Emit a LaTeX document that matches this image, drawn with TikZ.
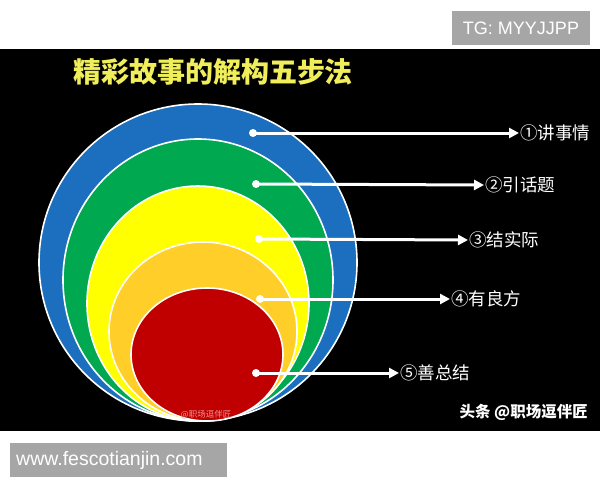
\documentclass[tikz,border=0pt]{standalone}
\usepackage{fontspec}
\usetikzlibrary{arrows.meta}
\newfontfamily\cjk{Noto Sans CJK SC}
\newfontfamily\lat{Liberation Sans}
\definecolor{cblue}{RGB}{28,110,190}
\definecolor{cgreen}{RGB}{0,168,80}
\definecolor{cyellow}{RGB}{255,255,0}
\definecolor{cgold}{RGB}{255,206,40}
\definecolor{cred}{RGB}{192,0,0}
\definecolor{ctitle}{RGB}{240,238,90}
\definecolor{cgrey}{RGB}{166,166,166}
\definecolor{cpink}{RGB}{240,150,150}
\tikzset{
  ring/.style={draw=white,line width=1.6pt},
  dot/.style={circle,fill=white,inner sep=0pt,minimum size=8pt},
  lbl/.style={anchor=west,text=white,font=\cjk\fontsize{17.5}{17.5}\selectfont,inner sep=1pt},
  arr/.style={draw=white,line width=3pt,-{Triangle[length=10pt,width=10pt]}},
  tag/.style={fill=cgrey,text=white,inner sep=0pt,font=\lat}
}
\begin{document}
\begin{tikzpicture}[x=1pt,y=-1pt]
\useasboundingbox (0,0) rectangle (600,480);
\fill[white] (0,0) rectangle (600,480);
\fill[black] (0,49) rectangle (600,431);
% top tag
\node[tag,minimum width=138pt,minimum height=34pt,font=\lat\fontsize{18}{18}\selectfont] (tg) at (521,28) {TG: MYYJJPP};
% bottom tag
\node[tag,anchor=west,minimum width=217pt,minimum height=34pt,align=left,text width=205pt,inner xsep=6pt,font=\lat\fontsize{19.5}{19.5}\selectfont] (web) at (10,460) {www.fescotianjin.com};
% title
\node[text=ctitle,font=\cjk\bfseries\fontsize{28}{28}\selectfont,inner sep=0pt] (title) at (213,71.5) {精彩故事的解构五步法};
% circles
\draw[ring,fill=cblue] (198,262.5) ellipse [x radius=159,y radius=158.5];
\draw[ring,fill=cgreen] (198,280) ellipse [x radius=135,y radius=141];
\draw[ring,fill=cyellow] (198,303.5) ellipse [x radius=111,y radius=117.5];
\draw[ring,fill=cgold] (203,331.5) ellipse [x radius=94,y radius=89.5];
\draw[ring,fill=cred] (207,354.5) ellipse [x radius=76,y radius=66.5];
% small watermark
\node[text=cpink,font=\cjk\fontsize{8.5}{8.5}\selectfont,inner sep=0pt] (wm) at (206,415) {@职场逗伴匠};
% dots
\node[dot] (d1) at (253,133) {};
\node[dot] (d2) at (256,184) {};
\node[dot] (d3) at (259,239) {};
\node[dot] (d4) at (260,299) {};
\node[dot] (d5) at (256,373) {};
% labels
\node[lbl] (l1) at (519,133) {①讲事情};
\node[lbl] (l2) at (484,185) {②引话题};
\node[lbl] (l3) at (468,240) {③结实际};
\node[lbl] (l4) at (450,299) {④有良方};
\node[lbl] (l5) at (399,373) {⑤善总结};
% arrows
\draw[arr] (d1.center) -- (l1.west);
\draw[arr] (d2.center) -- (l2.west);
\draw[arr] (d3.center) -- (l3.west);
\draw[arr] (d4.center) -- (l4.west);
\draw[arr] (d5.center) -- (l5.west);
% bottom-right watermark
\node[text=white,font=\cjk\bfseries\fontsize{15.5}{15.5}\selectfont,inner sep=0pt,anchor=east] (src) at (588,412) {头条 @职场逗伴匠};
\end{tikzpicture}
\end{document}
